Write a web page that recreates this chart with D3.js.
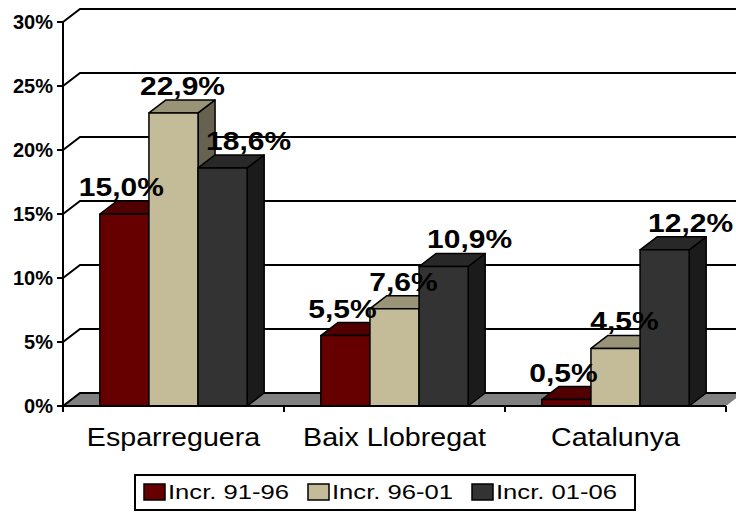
<!DOCTYPE html>
<html>
<head>
	<meta charset="utf-8">
	<script src="https://d3js.org/d3.v7.min.js"></script>
	<style>
		body { margin: 0; background: white; }
		text { font-family: 'Liberation Sans', Arial, sans-serif; fill: black; }
	</style>
</head>
<body>
<svg id="container"></svg>
</body>
<script>
// data
let categories = ['Esparreguera', 'Baix Llobregat', 'Catalunya'];
let seriesNames = ['Incr. 91-96', 'Incr. 96-01', 'Incr. 01-06'];
let incr9196 = [15.0, 5.5, 0.5];
let incr9601 = [22.9, 7.6, 4.5];
let incr0106 = [18.6, 10.9, 12.2];
let yTicks = [0, 5, 10, 15, 20, 25, 30];

let seriesValues = [incr9196, incr9601, incr0106];
let colors = ['#660000', '#c4bc98', '#333333'];

// 3d offset of the back wall
let dx = 17, dy = -13;

let shade = function(c, k) {
	let col = d3.rgb(c);
	return d3.rgb(col.r * k, col.g * k, col.b * k).formatHex();
}

let fmt = function(v) {
	return v.toFixed(1).replace('.', ',') + '%';
}

let pts = function(arr) {
	return arr.map((p) => { return p[0] + ',' + p[1] }).join(' ');
}
</script>

<script>
let svg = d3.select('#container')
	.attr('width', 736)
	.attr('height', 521);

svg.append('rect')
	.attr('width', 736)
	.attr('height', 521)
	.attr('fill', 'white');

let x = d3.scaleBand()
	.domain(categories)
	.range([63, 726]);

let xs = d3.scaleBand()
	.domain(seriesNames)
	.range([0, x.bandwidth()])
	.paddingOuter(0.75);

let y = d3.scaleLinear()
	.domain([0, 30])
	.range([406, 22]);

let x0 = x.range()[0], x1 = x.range()[1];

// floor
svg.append('polygon')
	.attr('points', pts([[x0, y(0)], [x0 + dx, y(0) + dy], [x1 + dx, y(0) + dy], [x1, y(0)]]))
	.attr('fill', '#808080');

// gridlines on back wall + left wall diagonals
let grid = svg.append('g');
yTicks.forEach((t) => {
	grid.append('polyline')
		.attr('points', pts([[x0, y(t)], [x0 + dx, y(t) + dy], [736, y(t) + dy]]))
		.attr('fill', 'none')
		.attr('stroke', 'black')
		.attr('stroke-width', 2);
});

// bars
let bars = svg.append('g');
categories.forEach((c, i) => {
	seriesNames.forEach((s, j) => {
		let v = seriesValues[j][i];
		let bx = x(c) + xs(s), bw = xs.bandwidth();
		let yt = y(v), yb = y(0);
		let g = bars.append('g')
			.attr('stroke', 'black')
			.attr('stroke-width', 1.5)
			.attr('stroke-linejoin', 'round');
		// side
		g.append('polygon')
			.attr('points', pts([[bx + bw, yb], [bx + bw + dx, yb + dy], [bx + bw + dx, yt + dy], [bx + bw, yt]]))
			.attr('fill', shade(colors[j], 0.52));
		// top
		g.append('polygon')
			.attr('points', pts([[bx, yt], [bx + dx, yt + dy], [bx + bw + dx, yt + dy], [bx + bw, yt]]))
			.attr('fill', shade(colors[j], 0.78));
		// front
		g.append('rect')
			.attr('x', bx)
			.attr('y', yt)
			.attr('width', bw)
			.attr('height', yb - yt)
			.attr('fill', colors[j]);
	});
});

// axes
svg.append('line')
	.attr('x1', x0).attr('x2', x0)
	.attr('y1', y(30)).attr('y2', y(0))
	.attr('stroke', 'black').attr('stroke-width', 2);
svg.append('line')
	.attr('x1', x0).attr('x2', x1)
	.attr('y1', y(0)).attr('y2', y(0))
	.attr('stroke', 'black').attr('stroke-width', 2);

yTicks.forEach((t) => {
	svg.append('line')
		.attr('x1', x0 - 6).attr('x2', x0)
		.attr('y1', y(t)).attr('y2', y(t))
		.attr('stroke', 'black').attr('stroke-width', 2);
	svg.append('text')
		.attr('x', x0 - 10)
		.attr('y', y(t) + 7)
		.attr('text-anchor', 'end')
		.attr('font-size', 20)
		.attr('font-weight', 'bold')
		.text(t + '%');
});

categories.concat(['end']).forEach((c, i) => {
	let tx = x0 + i * x.bandwidth();
	svg.append('line')
		.attr('x1', tx).attr('x2', tx)
		.attr('y1', y(0)).attr('y2', y(0) + 6)
		.attr('stroke', 'black').attr('stroke-width', 2);
});

categories.forEach((c) => {
	svg.append('text')
		.attr('transform', 'translate(' + (x(c) + x.bandwidth() / 2) + ',446) scale(1.1,1)')
		.attr('text-anchor', 'middle')
		.attr('font-size', 26)
		.text(c);
});

// data labels
let labelShift = [-3, 9, 26];
categories.forEach((c, i) => {
	seriesNames.forEach((s, j) => {
		let v = seriesValues[j][i];
		let cx = x(c) + xs(s) + xs.bandwidth() / 2 + labelShift[j];
		let ly = y(v) + dy - 5;
		svg.append('text')
			.attr('transform', 'translate(' + cx + ',' + ly + ') scale(1.2,1)')
			.attr('text-anchor', 'middle')
			.attr('font-size', 25)
			.attr('font-weight', 'bold')
			.text(fmt(v));
	});
});

// legend
let legend = svg.append('g');
legend.append('rect')
	.attr('x', 135).attr('y', 475)
	.attr('width', 500).attr('height', 35)
	.attr('fill', 'white')
	.attr('stroke', 'black')
	.attr('stroke-width', 2);

seriesNames.forEach((s, j) => {
	let lx = 144 + j * 164;
	legend.append('rect')
		.attr('x', lx).attr('y', 484)
		.attr('width', 21).attr('height', 16)
		.attr('fill', colors[j])
		.attr('stroke', 'black')
		.attr('stroke-width', 1.5);
	legend.append('text')
		.attr('transform', 'translate(' + (lx + 24) + ',499) scale(1.22,1)')
		.attr('font-size', 21)
		.text(s);
});
</script>
</html>
